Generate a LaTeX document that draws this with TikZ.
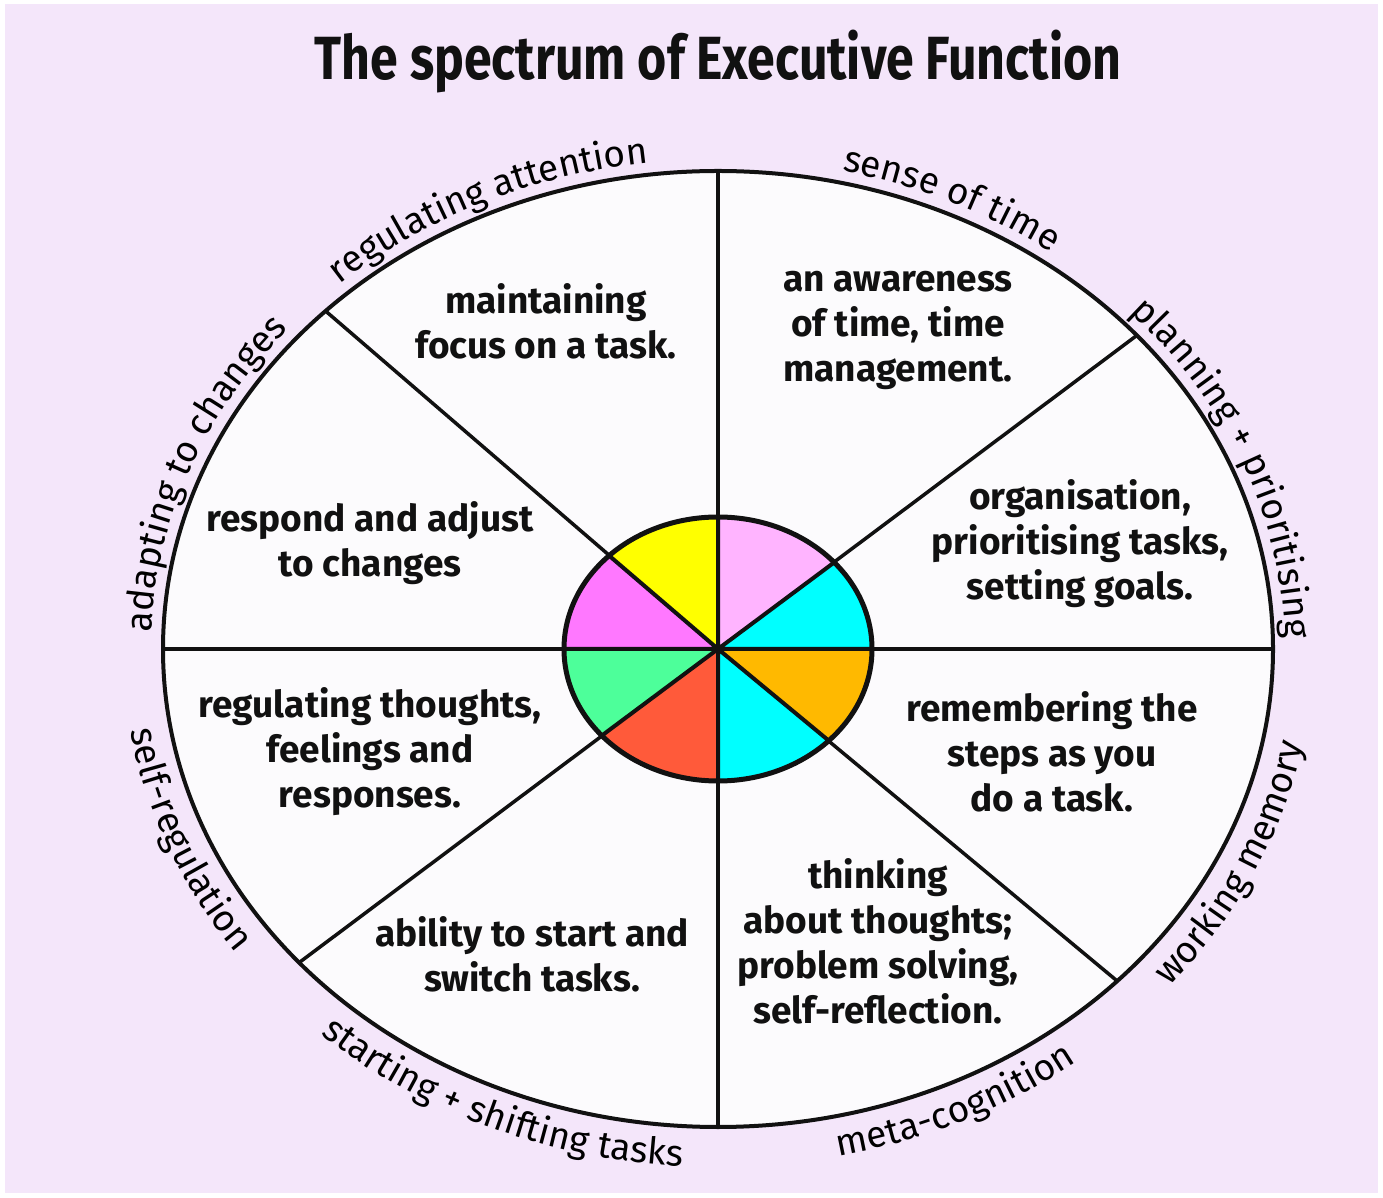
\documentclass[tikz,border=0pt]{standalone}
\usepackage{fontspec}
\usepackage{graphicx}
\setmainfont{Fira Sans}
\usetikzlibrary{decorations.text}

\definecolor{lilac}{RGB}{244,230,250}
\definecolor{paper}{RGB}{252,251,253}
\definecolor{ink}{RGB}{17,17,17}
\definecolor{hubPink}{RGB}{255,180,255}
\definecolor{hubCyan}{RGB}{0,255,255}
\definecolor{hubYellow}{RGB}{255,255,0}
\definecolor{hubMagenta}{RGB}{255,120,255}
\definecolor{hubGreen}{RGB}{77,255,154}
\definecolor{hubRed}{RGB}{255,90,58}
\definecolor{hubOrange}{RGB}{255,185,0}

\newcommand\rimfont{\fontsize{37}{37}\selectfont}

\begin{document}
\begin{tikzpicture}[
  x=1pt, y=1pt,
  title/.style={
    text=ink,
    font=\bfseries\fontsize{61}{61}\selectfont
  },
  sector text/.style={
    text=ink,
    align=center,
    font=\bfseries\fontsize{37}{45}\selectfont
  },
  rim label/.style={
    decorate,
    decoration={text along path, text align=center, text={|\rimfont|#1}}
  },
  spoke/.style={
    draw=ink,
    line width=3.5pt
  }
  ]
\useasboundingbox (0,0) rectangle (1383,1197);
\fill[white] (0,0) rectangle (1383,1197);
\fill[lilac] (5,4) rectangle (1378,1193);
\coordinate (c) at (718,548);
% Title
\node[title] (title) at (718,1135) {\scalebox{0.82}[1]{The spectrum of Executive Function}};
% Wheel
\fill[paper] (c) ellipse[x radius=555, y radius=478];
\draw[spoke] (c) -- ++(0:555 and 478);
\draw[spoke] (c) -- ++(41:555 and 478);
\draw[spoke] (c) -- ++(90:555 and 478);
\draw[spoke] (c) -- ++(135:555 and 478);
\draw[spoke] (c) -- ++(180:555 and 478);
\draw[spoke] (c) -- ++(221:555 and 478);
\draw[spoke] (c) -- ++(270:555 and 478);
\draw[spoke] (c) -- ++(316:555 and 478);
\draw[ink, line width=4pt] (c) ellipse[x radius=555, y radius=478];
% Hub
\fill[hubCyan] (c) -- ++(0:154 and 132) arc[start angle=0, end angle=41, x radius=154, y radius=132] -- cycle;
\fill[hubPink] (c) -- ++(41:154 and 132) arc[start angle=41, end angle=90, x radius=154, y radius=132] -- cycle;
\fill[hubYellow] (c) -- ++(90:154 and 132) arc[start angle=90, end angle=135, x radius=154, y radius=132] -- cycle;
\fill[hubMagenta] (c) -- ++(135:154 and 132) arc[start angle=135, end angle=180, x radius=154, y radius=132] -- cycle;
\fill[hubGreen] (c) -- ++(180:154 and 132) arc[start angle=180, end angle=221, x radius=154, y radius=132] -- cycle;
\fill[hubRed] (c) -- ++(221:154 and 132) arc[start angle=221, end angle=270, x radius=154, y radius=132] -- cycle;
\fill[hubCyan] (c) -- ++(270:154 and 132) arc[start angle=270, end angle=316, x radius=154, y radius=132] -- cycle;
\fill[hubOrange] (c) -- ++(316:154 and 132) arc[start angle=316, end angle=360, x radius=154, y radius=132] -- cycle;
\draw[spoke, line width=4pt] (c) -- ++(0:154 and 132) (c) -- ++(41:154 and 132)
  (c) -- ++(90:154 and 132) (c) -- ++(135:154 and 132)
  (c) -- ++(180:154 and 132) (c) -- ++(221:154 and 132)
  (c) -- ++(270:154 and 132) (c) -- ++(316:154 and 132);
\draw[ink, line width=5pt] (c) ellipse[x radius=154, y radius=132];
% Sector texts
\node[sector text] (attention text) at (546,876) {maintaining\\focus on a task.};
\node[sector text] (time text) at (898,867) {an awareness\\of time, time\\management.};
\node[sector text] (planning text) at (1080,653) {organisation,\\prioritising tasks,\\setting goals.};
\node[sector text] (memory text) at (1052,445) {remembering the\\steps as you\\do a task.};
\node[sector text] (meta text) at (878,256) {thinking\\about thoughts;\\problem solving,\\self-reflection.};
\node[sector text] (shifting text) at (532,243) {ability to start and\\switch tasks.};
\node[sector text] (regulation text) at (370,445) {regulating thoughts,\\feelings and\\responses.};
\node[sector text] (changes text) at (370,654) {respond and adjust\\to changes};
% Rim labels, top half (clockwise)
\path[rim label={regulating attention}] (c) ++(166:567 and 490) arc[start angle=166, end angle=66, x radius=567, y radius=490];
\path[rim label={sense of time}] (c) ++(114:567 and 490) arc[start angle=114, end angle=14, x radius=567, y radius=490];
\path[rim label={planning + prioritising}] (c) ++(71:567 and 490) arc[start angle=71, end angle=-29, x radius=567, y radius=490];
\path[rim label={adapting to changes}] (c) ++(210:567 and 490) arc[start angle=210, end angle=110, x radius=567, y radius=490];
% Rim labels, bottom half (counter-clockwise)
\path[rim label={working memory}] (c) ++(286:595 and 518) arc[start angle=286, end angle=386, x radius=595, y radius=518];
\path[rim label={meta-cognition}] (c) ++(246:595 and 518) arc[start angle=246, end angle=346, x radius=595, y radius=518];
\path[rim label={starting + shifting tasks}] (c) ++(196:595 and 518) arc[start angle=196, end angle=296, x radius=595, y radius=518];
\path[rim label={self-regulation}] (c) ++(151:595 and 518) arc[start angle=151, end angle=251, x radius=595, y radius=518];
\end{tikzpicture}
\end{document}
